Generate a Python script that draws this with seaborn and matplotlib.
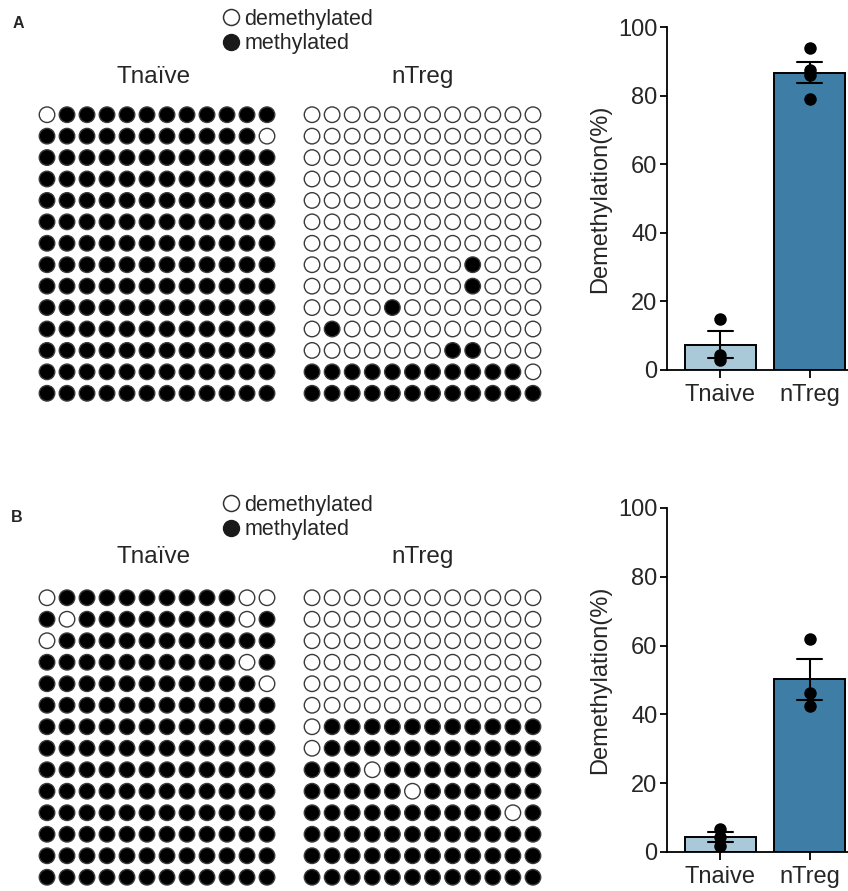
import matplotlib
matplotlib.use("Agg")
import matplotlib.pyplot as plt
from matplotlib.lines import Line2D
import pandas as pd
import seaborn as sns

# ----------------------------------------------------------------------------------
# Data: 1 = methylated (filled), 0 = demethylated (open)

A_TNAIVE = [
    "011111111111",
    "111111111110",
    "111111111111",
    "111111111111",
    "111111111111",
    "111111111111",
    "111111111111",
    "111111111111",
    "111111111111",
    "111111111111",
    "111111111111",
    "111111111111",
    "111111111111",
    "111111111111",
]
A_NTREG = [
    "000000000000",
    "000000000000",
    "000000000000",
    "000000000000",
    "000000000000",
    "000000000000",
    "000000000000",
    "000000001000",
    "000000001000",
    "000010000000",
    "010000000000",
    "000000011000",
    "111111111110",
    "111111111111",
]
B_TNAIVE = [
    "011111111100",
    "101111111101",
    "011111111111",
    "111111111101",
    "111111111110",
    "111111111111",
    "111111111111",
    "111111111111",
    "111111111111",
    "111111111111",
    "111111111111",
    "111111111111",
    "111111111111",
    "111111111111",
]
B_NTREG = [
    "000000000000",
    "000000000000",
    "000000000000",
    "000000000000",
    "000000000000",
    "000000000000",
    "011111111111",
    "011111111111",
    "111011111111",
    "111110111111",
    "111111111101",
    "111111111111",
    "111111111111",
    "111111111111",
]

GROUPS = ["Tnaive", "nTreg"]
A_TNAIVE_PCT = [15.0, 4.5, 2.8]
A_NTREG_PCT = [94.0, 87.5, 86.0, 79.0]
B_TNAIVE_PCT = [6.8, 4.5, 1.8]
B_NTREG_PCT = [62.0, 46.2, 42.4]

BAR_COLORS = {"Tnaive": "#a9c9d9", "nTreg": "#3e7ea6"}

# ----------------------------------------------------------------------------------
W, H = 848, 891

sns.set_theme(style="ticks")
plt.rcParams["font.family"] = ["Liberation Sans", "DejaVu Sans"]

fig = plt.figure(figsize=(W / 100, H / 100), dpi=100)


def px_axes(left, top, right, bottom):
    return fig.add_axes([left / W, 1 - bottom / H, (right - left) / W, (bottom - top) / H])


def grid_df(grid):
    rows = []
    for r, line in enumerate(grid):
        for c, ch in enumerate(line):
            rows.append({"row": r, "col": c, "state": ch})
    return pd.DataFrame(rows)


def draw_grid(grid, left, top, right, bottom):
    ax = px_axes(left, top, right, bottom)
    sns.scatterplot(
        data=grid_df(grid), x="col", y="row", hue="state",
        palette={"0": "white", "1": "black"},
        edgecolor="#3a3a3a", linewidth=1.0, s=125, legend=False, ax=ax,
    )
    ax.set_xlim(-0.5, 11.5)
    ax.set_ylim(13.5, -0.5)
    ax.axis("off")
    return ax


def draw_bars(tnaive, ntreg, left, top, right, bottom):
    ax = px_axes(left, top, right, bottom)
    df = pd.DataFrame({
        "group": [GROUPS[0]] * len(tnaive) + [GROUPS[1]] * len(ntreg),
        "value": tnaive + ntreg,
    })
    sns.barplot(
        data=df, x="group", y="value", hue="group", order=GROUPS,
        palette=BAR_COLORS, saturation=1, errorbar="se", capsize=0.28, width=0.8,
        err_kws={"color": "black", "linewidth": 1.5},
        edgecolor="black", linewidth=1.4, legend=False, ax=ax,
    )
    sns.stripplot(data=df, x="group", y="value", order=GROUPS,
                  color="black", jitter=False, size=9, ax=ax)
    for coll in ax.collections:
        coll.set_zorder(1.8)
    ax.set_ylim(0, 100)
    ax.set_xlim(-0.6, 1.43)
    ax.set_yticks([0, 20, 40, 60, 80, 100])
    ax.set_xlabel("")
    ax.set_ylabel("Demethylation(%)", fontsize=17, labelpad=5)
    ax.tick_params(labelsize=17, length=5, width=1.3, pad=2, color="black")
    ax.tick_params(axis="x", length=6, pad=4)
    for s in ["left", "bottom"]:
        ax.spines[s].set_linewidth(1.3)
        ax.spines[s].set_color("black")
    sns.despine(ax=ax)
    return ax


legend_handles = [
    Line2D([], [], marker="o", ls="", markersize=11.5, markerfacecolor="white",
           markeredgecolor="#333333", markeredgewidth=1.1),
    Line2D([], [], marker="o", ls="", markersize=11.5, markerfacecolor="#1a1a1a",
           markeredgecolor="#1a1a1a"),
]


def draw_legend(top):
    fig.legend(legend_handles, ["demethylated", "methylated"], loc="upper left",
               bbox_to_anchor=(220 / W, 1 - top / H), frameon=False, fontsize=15.5,
               handletextpad=0.12, labelspacing=0.15, handlelength=1.0,
               borderpad=0, borderaxespad=0)


# ---------------------------------- panel A
fig.text(18 / W, 1 - 23 / H, "A", fontsize=11.5, fontweight="bold", ha="center", va="center")
draw_legend(9)
fig.text(154 / W, 1 - 77 / H, "Tnaïve", fontsize=17.5, ha="center", va="center")
fig.text(423 / W, 1 - 77 / H, "nTreg", fontsize=17.5, ha="center", va="center")
draw_grid(A_TNAIVE, 37, 104, 277, 404)
draw_grid(A_NTREG, 302, 104, 543, 404)
draw_bars(A_TNAIVE_PCT, A_NTREG_PCT, 667, 27, 848, 370)

# ---------------------------------- panel B
fig.text(17 / W, 1 - 517 / H, "B", fontsize=11.5, fontweight="bold", ha="center", va="center")
draw_legend(495)
fig.text(154 / W, 1 - 557 / H, "Tnaïve", fontsize=17.5, ha="center", va="center")
fig.text(423 / W, 1 - 557 / H, "nTreg", fontsize=17.5, ha="center", va="center")
draw_grid(B_TNAIVE, 37, 587, 277, 888)
draw_grid(B_NTREG, 302, 587, 543, 888)
draw_bars(B_TNAIVE_PCT, B_NTREG_PCT, 667, 508, 848, 852)

fig.savefig("out.png", dpi=100)
